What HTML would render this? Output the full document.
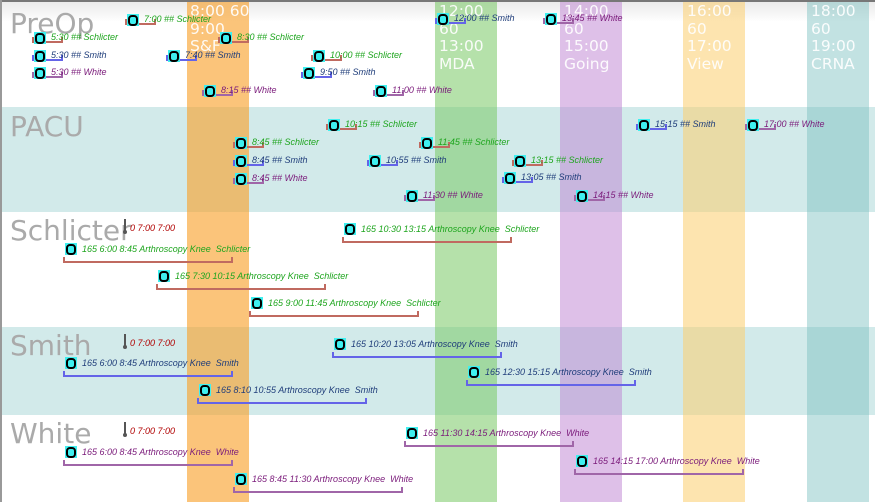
<!DOCTYPE html>
<html><head><meta charset="utf-8"><style>
body{margin:0;}
#c{position:relative;width:875px;height:502px;overflow:hidden;background:#fff;font-family:"Liberation Sans",sans-serif;}
.band{position:absolute;left:0;width:875px;}
.col{position:absolute;top:0;height:502px;width:62px;}
.hd{position:absolute;top:3px;color:#fff;font-family:"DejaVu Sans",sans-serif;font-size:15.5px;line-height:17.5px;white-space:nowrap;opacity:.92}
.lbl{position:absolute;left:10px;font-family:"DejaVu Sans",sans-serif;font-size:28px;color:#aaa;}
.it{position:absolute;}
.ic{position:absolute;left:2px;top:0;width:12px;height:12px;background:#3ff0f0;}
.ic:after{content:"";position:absolute;left:1px;top:1px;width:6px;height:7px;border:2.5px solid #000;border-radius:4px;}
.t{position:absolute;left:19px;top:0px;font-size:9px;font-style:italic;white-space:nowrap;}
.b{position:absolute;left:0;border:2px solid;border-top:none;}
.s .b{top:5px;width:27px;height:4px;}
.k .b{top:14px;width:166px;height:4px;}
.k .t{top:1px;}
.S .t{color:#1ea51e}.S .b{border-color:#c06a60}
.M .t{color:#1f3d7a}.M .b{border-color:#6464e8}
.W .t{color:#7a1a7a}.W .b{border-color:#a066a8}
.mk{position:absolute;font-size:9px;font-style:italic;color:#b00000;}
.mk:before{content:"";position:absolute;left:-6px;top:-4px;width:1.5px;height:12px;background:#555;}
.mk:after{content:"";position:absolute;left:-7px;top:7px;width:4px;height:4px;border-radius:2px;background:#555;}
</style></head><body><div id="c">
<div style="position:absolute;left:0;top:0;width:875px;height:22px;background:linear-gradient(#e8e8e8,#fff)"></div>
<div class="band" style="top:107px;height:105px;background:#d2eaea"></div>
<div class="band" style="top:327px;height:88px;background:#d2eaea"></div>
<div class="col" style="left:187px;background:rgba(248,160,40,.62)"></div>
<div class="col" style="left:435px;background:rgba(120,200,100,.55)"></div>
<div class="col" style="left:560px;background:rgba(190,130,210,.5)"></div>
<div class="col" style="left:683px;background:rgba(252,205,110,.55)"></div>
<div class="col" style="left:807px;background:rgba(120,190,190,.45)"></div>
<div style="position:absolute;left:0;top:0;width:875px;height:2px;background:#777"></div>
<div style="position:absolute;left:0;top:0;width:2px;height:502px;background:#999"></div>
<div class="hd" style="left:190px">8:00 60<br>9:00<br>S&amp;F</div>
<div class="hd" style="left:439px">12:00<br>60<br>13:00<br>MDA</div>
<div class="hd" style="left:564px">14:00<br>60<br>15:00<br>Going</div>
<div class="hd" style="left:687px">16:00<br>60<br>17:00<br>View</div>
<div class="hd" style="left:811px">18:00<br>60<br>19:00<br>CRNA</div>
<div class="lbl" style="top:7px">PreOp</div>
<div class="lbl" style="top:110px">PACU</div>
<div class="lbl" style="top:214px">Schlicter</div>
<div class="lbl" style="top:329px">Smith</div>
<div class="lbl" style="top:417px">White</div>

<div class="it s S" style="left:125px;top:14px"><div class="b"></div><div class="ic"></div><div class="t">7:00 ## Schlicter</div></div>
<div class="it s S" style="left:32px;top:32px"><div class="b"></div><div class="ic"></div><div class="t">5:30 ## Schlicter</div></div>
<div class="it s M" style="left:32px;top:50px"><div class="b"></div><div class="ic"></div><div class="t">5:30 ## Smith</div></div>
<div class="it s W" style="left:32px;top:67px"><div class="b"></div><div class="ic"></div><div class="t">5:30 ## White</div></div>
<div class="it s S" style="left:218px;top:32px"><div class="b"></div><div class="ic"></div><div class="t">8:30 ## Schlicter</div></div>
<div class="it s M" style="left:166px;top:50px"><div class="b"></div><div class="ic"></div><div class="t">7:40 ## Smith</div></div>
<div class="it s S" style="left:311px;top:50px"><div class="b"></div><div class="ic"></div><div class="t">10:00 ## Schlicter</div></div>
<div class="it s M" style="left:301px;top:67px"><div class="b"></div><div class="ic"></div><div class="t">9:50 ## Smith</div></div>
<div class="it s W" style="left:202px;top:85px"><div class="b"></div><div class="ic"></div><div class="t">8:15 ## White</div></div>
<div class="it s W" style="left:373px;top:85px"><div class="b"></div><div class="ic"></div><div class="t">11:00 ## White</div></div>
<div class="it s M" style="left:435px;top:13px"><div class="b"></div><div class="ic"></div><div class="t">12:00 ## Smith</div></div>
<div class="it s W" style="left:543px;top:13px"><div class="b"></div><div class="ic"></div><div class="t">13:45 ## White</div></div>

<div class="it s S" style="left:326px;top:119px"><div class="b"></div><div class="ic"></div><div class="t">10:15 ## Schlicter</div></div>
<div class="it s M" style="left:636px;top:119px"><div class="b"></div><div class="ic"></div><div class="t">15:15 ## Smith</div></div>
<div class="it s W" style="left:745px;top:119px"><div class="b"></div><div class="ic"></div><div class="t">17:00 ## White</div></div>
<div class="it s S" style="left:233px;top:137px"><div class="b"></div><div class="ic"></div><div class="t">8:45 ## Schlicter</div></div>
<div class="it s S" style="left:419px;top:137px"><div class="b"></div><div class="ic"></div><div class="t">11:45 ## Schlicter</div></div>
<div class="it s M" style="left:233px;top:155px"><div class="b"></div><div class="ic"></div><div class="t">8:45 ## Smith</div></div>
<div class="it s M" style="left:367px;top:155px"><div class="b"></div><div class="ic"></div><div class="t">10:55 ## Smith</div></div>
<div class="it s S" style="left:512px;top:155px"><div class="b"></div><div class="ic"></div><div class="t">13:15 ## Schlicter</div></div>
<div class="it s W" style="left:233px;top:173px"><div class="b"></div><div class="ic"></div><div class="t">8:45 ## White</div></div>
<div class="it s M" style="left:502px;top:172px"><div class="b"></div><div class="ic"></div><div class="t">13:05 ## Smith</div></div>
<div class="it s W" style="left:404px;top:190px"><div class="b"></div><div class="ic"></div><div class="t">11:30 ## White</div></div>
<div class="it s W" style="left:574px;top:190px"><div class="b"></div><div class="ic"></div><div class="t">14:15 ## White</div></div>

<div class="mk" style="left:130px;top:223px">0 7:00 7:00</div>
<div class="it k S" style="left:342px;top:223px"><div class="b"></div><div class="ic"></div><div class="t">165 10:30 13:15 Arthroscopy Knee&nbsp; Schlicter</div></div>
<div class="it k S" style="left:63px;top:243px"><div class="b"></div><div class="ic"></div><div class="t">165 6:00 8:45 Arthroscopy Knee&nbsp; Schlicter</div></div>
<div class="it k S" style="left:156px;top:270px"><div class="b"></div><div class="ic"></div><div class="t">165 7:30 10:15 Arthroscopy Knee&nbsp; Schlicter</div></div>
<div class="it k S" style="left:249px;top:297px"><div class="b"></div><div class="ic"></div><div class="t">165 9:00 11:45 Arthroscopy Knee&nbsp; Schlicter</div></div>

<div class="mk" style="left:130px;top:338px">0 7:00 7:00</div>
<div class="it k M" style="left:332px;top:338px"><div class="b"></div><div class="ic"></div><div class="t">165 10:20 13:05 Arthroscopy Knee&nbsp; Smith</div></div>
<div class="it k M" style="left:63px;top:357px"><div class="b"></div><div class="ic"></div><div class="t">165 6:00 8:45 Arthroscopy Knee&nbsp; Smith</div></div>
<div class="it k M" style="left:466px;top:366px"><div class="b"></div><div class="ic"></div><div class="t">165 12:30 15:15 Arthroscopy Knee&nbsp; Smith</div></div>
<div class="it k M" style="left:197px;top:384px"><div class="b"></div><div class="ic"></div><div class="t">165 8:10 10:55 Arthroscopy Knee&nbsp; Smith</div></div>

<div class="mk" style="left:130px;top:426px">0 7:00 7:00</div>
<div class="it k W" style="left:404px;top:427px"><div class="b"></div><div class="ic"></div><div class="t">165 11:30 14:15 Arthroscopy Knee&nbsp; White</div></div>
<div class="it k W" style="left:63px;top:446px"><div class="b"></div><div class="ic"></div><div class="t">165 6:00 8:45 Arthroscopy Knee&nbsp; White</div></div>
<div class="it k W" style="left:574px;top:455px"><div class="b"></div><div class="ic"></div><div class="t">165 14:15 17:00 Arthroscopy Knee&nbsp; White</div></div>
<div class="it k W" style="left:233px;top:473px"><div class="b"></div><div class="ic"></div><div class="t">165 8:45 11:30 Arthroscopy Knee&nbsp; White</div></div>
</div></body></html>
